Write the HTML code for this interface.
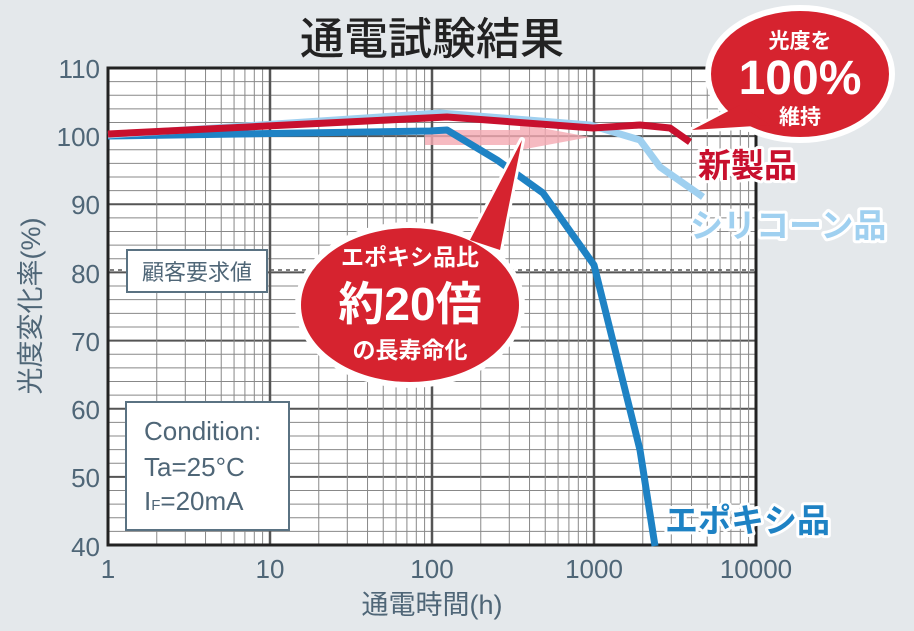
<!DOCTYPE html>
<html><head><meta charset="utf-8"><style>
body{margin:0;background:#e4e8eb;}
svg{display:block;font-family:"Liberation Sans","Noto Sans CJK JP",sans-serif;}
</style></head><body>
<svg id="s" width="914" height="631" viewBox="0 0 914 631" xmlns="http://www.w3.org/2000/svg">
<rect width="914" height="631" fill="#e4e8eb"/>
<text x="432" y="54" font-size="44" fill="#222" text-anchor="middle" font-weight="500">通電試験結果</text>
<rect x="108" y="68" width="648" height="477" fill="#fff"/>
<g id="grid"></g>
<rect x="108" y="68" width="648" height="477" fill="none" stroke="#222" stroke-width="3"/>
<line x1="110" y1="270" x2="754" y2="270" stroke="#555" stroke-width="1.5" stroke-dasharray="4,4"/>
<g fill="#4f6677" font-size="26" text-anchor="end">
<text x="100" y="78">110</text><text x="100" y="146">100</text><text x="100" y="214">90</text><text x="100" y="283">80</text><text x="100" y="351">70</text><text x="100" y="419">60</text><text x="100" y="487">50</text><text x="100" y="556">40</text>
</g>
<g fill="#4f6677" font-size="26" text-anchor="middle">
<text x="108" y="578">1</text><text x="270" y="578">10</text><text x="432" y="578">100</text><text x="594" y="578">1000</text><text x="756" y="578">10000</text>
<text x="432" y="614" font-size="27">通電時間(h)</text>
</g>
<text transform="translate(40,306) rotate(-90)" fill="#4f6677" font-size="27" text-anchor="middle">光度変化率(%)</text>
<polygon points="425,130 520,130 520,124 590,137 520,150 520,145 425,145" fill="#f4a9b1" opacity="0.8"/>
<polyline points="108,136 430,131 447,130 497,160 543,193 594,265 640,450 655,546" fill="none" stroke="#1e82c4" stroke-width="7" stroke-linejoin="round"/>
<polyline points="108,135 440,113 590,125 640,140 660,167 693,190 703,197" fill="none" stroke="#9fd0f0" stroke-width="7" stroke-linejoin="round"/>
<polyline points="108,134 447,117 593,128 640,125 670,128 690,142" fill="none" stroke="#c8102e" stroke-width="7" stroke-linejoin="round"/>
<rect x="127" y="250" width="140" height="42" fill="#fff" stroke="#5a7282" stroke-width="2"/>
<text x="197" y="280" fill="#4f6677" font-size="22" text-anchor="middle">顧客要求値</text>
<rect x="126" y="402" width="163" height="128" fill="#fff" stroke="#5a7282" stroke-width="2"/>
<g fill="#4f6677" font-size="26"><text x="144" y="440">Condition:</text><text x="144" y="476">Ta=25°C</text><text x="144" y="510">I<tspan font-size="15">F</tspan>=20mA</text></g>
<g stroke="#fff" stroke-width="6" stroke-linejoin="round" fill="#d6232f">
<path d="M470,240 L522,140 L500,250 Z"/>
<ellipse cx="410" cy="305" rx="112" ry="80"/>
<path d="M740,105 L692,130 L770,125 Z"/>
<ellipse cx="800" cy="74" rx="92" ry="66"/>
</g>
<path d="M470,240 L522,140 L500,250 Z" fill="#d6232f"/>
<path d="M740,105 L692,130 L770,125 Z" fill="#d6232f"/>
<g fill="#fff" text-anchor="middle" font-weight="bold">
<text x="410" y="265" font-size="23">エポキシ品比</text>
<text x="410" y="320" font-size="46">約20倍</text>
<text x="410" y="358" font-size="23">の長寿命化</text>
<text x="800" y="48" font-size="21">光度を</text>
<text x="800" y="94" font-size="48">100%</text>
<text x="800" y="124" font-size="21">維持</text>
</g>
<g font-weight="bold" font-size="33" stroke="#fff" stroke-width="6" paint-order="stroke" stroke-linejoin="round">
<text x="698" y="177" fill="#c8102e">新製品</text>
<text x="690" y="237" fill="#9fd0f0">シリコーン品</text>
<text x="665" y="532" fill="#1e82c4">エポキシ品</text>
</g>
</svg>
<script>
var g=document.getElementById('grid'),h='';
for(var v=42;v<110;v+=2){var y=545-(v-40)*477/70;h+='<line x1="108" x2="756" y1="'+y+'" y2="'+y+'" stroke="'+(v%10?'#888':'#555')+'" stroke-width="'+(v%10?1:2)+'"/>';}
for(var d=0;d<4;d++)for(var k=1;k<=9;k++){var x=108+(d+Math.log10(k))*162;h+='<line y1="68" y2="545" x1="'+x+'" x2="'+x+'" stroke="'+(k==1?'#555':'#888')+'" stroke-width="'+(k==1?2.5:1)+'"/>';}
g.innerHTML=h;
</script>
</body></html>
